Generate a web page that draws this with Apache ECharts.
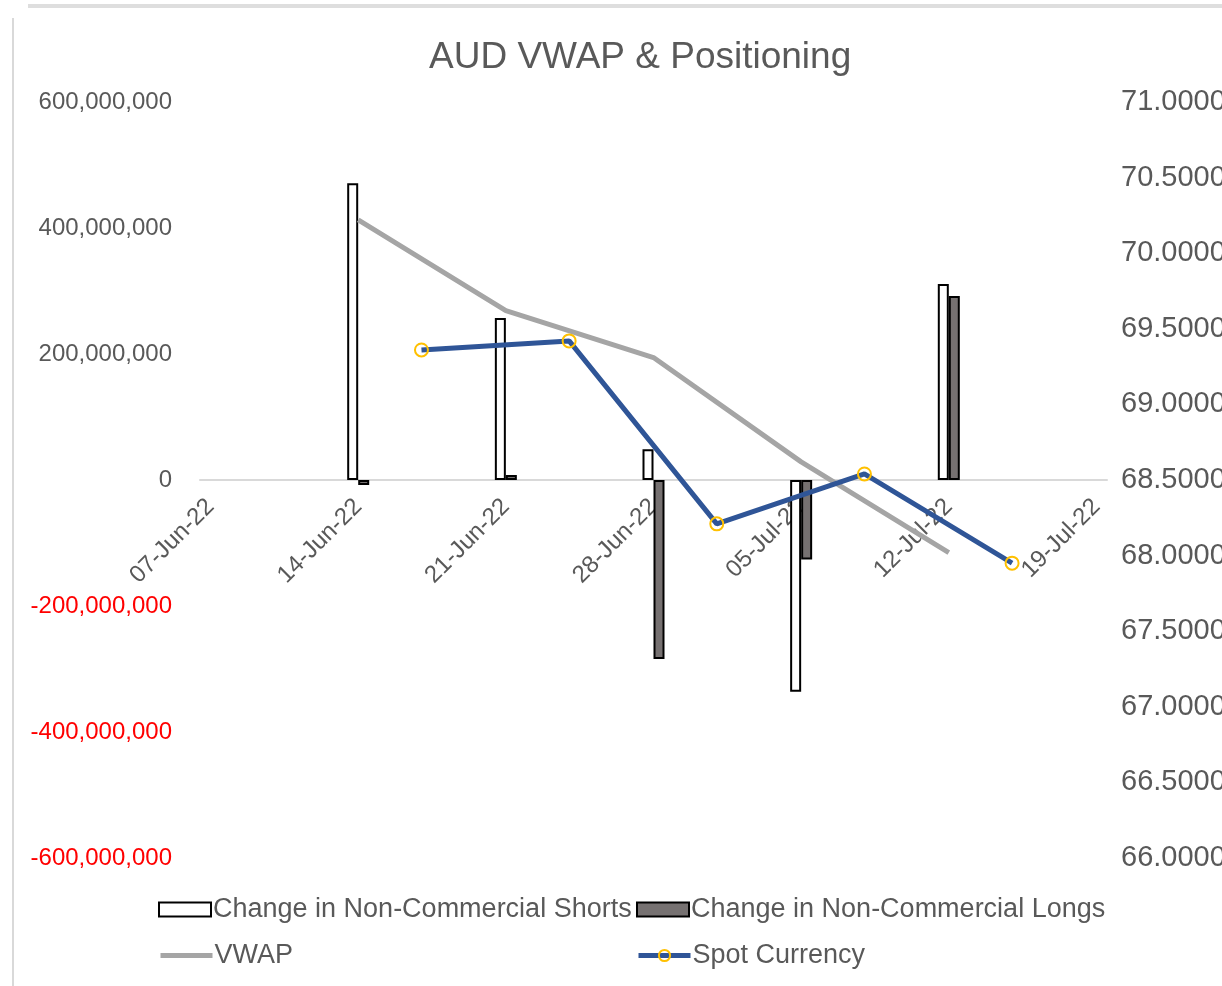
<!DOCTYPE html>
<html lang="en">
<head>
    <meta charset="UTF-8">
    <title>AUD VWAP & Positioning</title>
    <script src="https://cdn.jsdelivr.net/npm/echarts@6/dist/echarts.min.js"></script>
</head>
<style type="text/css">
    html,body,#chart{
        width: 100%;
        height: 100%;
        margin: 0;
        padding: 0;
        background: #fff;
    }
</style>
<body>
<div id="chart"></div>
<script>
    // daily slots from 07-Jun-22 to 19-Jul-22, a label every 7 days
    var firstDay = '2022-06-07';
    var dayCount = 43;

    // weekly positioning changes (left axis)
    var barDates = ['14-Jun-22', '21-Jun-22', '28-Jun-22', '05-Jul-22', '12-Jul-22'];
    var shorts = [471000000, 257000000, 49000000, -336000000, 311000000];
    var longs = [-8000000, 8000000, -284000000, -126000000, 292000000];

    // VWAP (right axis)
    var vwapDates = ['14-Jun-22', '21-Jun-22', '28-Jun-22', '05-Jul-22', '12-Jul-22'];
    var vwap = [70.22, 69.62, 69.31, 68.62, 68.02];

    // spot (right axis)
    var spotDates = ['17-Jun-22', '24-Jun-22', '01-Jul-22', '08-Jul-22', '15-Jul-22'];
    var spot = [69.36, 69.42, 68.21, 68.54, 67.95];

    var months = ['Jan','Feb','Mar','Apr','May','Jun','Jul','Aug','Sep','Oct','Nov','Dec'];
    function fmtDay(d){
        var dd = d.getUTCDate();
        return (dd < 10 ? '0' + dd : dd) + '-' + months[d.getUTCMonth()] + '-' + String(d.getUTCFullYear()).slice(2);
    }
    var days = [];
    var t0 = Date.parse(firstDay + 'T00:00:00Z');
    for(var i=0;i<dayCount;i++){
        days.push(fmtDay(new Date(t0 + i*86400000)));
    }
    function pairs(ds, vs){
        var out = [];
        for(var i=0;i<ds.length;i++){
            out.push([ds[i], vs[i]]);
        }
        return out;
    }

    var font = 'Liberation Sans, Arial, sans-serif';
    var grey = '#595959';
    var gridTop = 102, gridBottom = 128, H = 986;
    var myChart = echarts.init(document.getElementById('chart'));
    var options = {
        animation: false,
        title: {
            text: 'AUD VWAP & Positioning',
            left: 424,
            top: 34,
            textStyle: {color: grey, fontSize: 37, fontWeight: 'normal', fontFamily: font}
        },
        graphic: [
            {type: 'rect', shape: {x: 28, y: 4, width: 1200, height: 4}, style: {fill: '#dedede'}},
            {type: 'rect', shape: {x: 12, y: 18, width: 2, height: 970}, style: {fill: '#d9d9d9'}}
        ],
        grid: {left: 200, right: 115, top: gridTop, bottom: gridBottom, outerBoundsMode: 'none'},
        legend: [
            {data: [{name: 'Change in Non-Commercial Shorts', icon: 'rect'}], left: 158, top: 896},
            {data: [{name: 'Change in Non-Commercial Longs', icon: 'rect'}], left: 636, top: 896},
            {data: [{name: 'VWAP', itemStyle: {opacity: 0}, lineStyle: {width: 5}}], left: 158, top: 942},
            {data: [{name: 'Spot Currency', lineStyle: {width: 5}}], left: 636, top: 942}
        ].map(function(l){
            l.itemWidth = 52;
            l.itemHeight = 14;
            l.itemGap = 0;
            l.padding = 0;
            l.textStyle = {color: grey, fontSize: 27, fontFamily: font, padding: [0, 0, 0, -3]};
            return l;
        }),
        xAxis: {
            type: 'category',
            data: days,
            boundaryGap: true,
            // sits on the zero line of the left axis (middle of the grid)
            offset: -(H - gridTop - gridBottom) / 2,
            axisLine: {onZero: false, lineStyle: {color: '#d9d9d9', width: 2}},
            axisTick: {show: false},
            axisLabel: {
                interval: 6,
                rotate: 45,
                margin: 23,
                color: grey,
                fontSize: 24,
                fontFamily: font
            },
            splitLine: {show: false}
        },
        yAxis: [{
            type: 'value',
            min: -600000000,
            max: 600000000,
            interval: 200000000,
            axisLine: {show: false},
            axisTick: {show: false},
            splitLine: {show: false},
            axisLabel: {
                margin: 28,
                fontSize: 24,
                fontFamily: font,
                color: function(v){ return v < 0 ? '#FF0000' : grey; },
                formatter: function(v){ return Number(v).toLocaleString('en-US'); }
            }
        }, {
            type: 'value',
            min: 66,
            max: 71,
            interval: 0.5,
            axisLine: {show: false},
            axisTick: {show: false},
            splitLine: {show: false},
            axisLabel: {
                margin: 14,
                fontSize: 29,
                fontFamily: font,
                color: grey,
                formatter: function(v){ return Number(v).toFixed(4); }
            }
        }],
        series: [{
            name: 'Change in Non-Commercial Shorts',
            type: 'bar',
            barWidth: 11,
            barGap: '0%',
            itemStyle: {color: '#ffffff', borderColor: '#000000', borderWidth: 2},
            data: pairs(barDates, shorts)
        }, {
            name: 'Change in Non-Commercial Longs',
            type: 'bar',
            barWidth: 11,
            barGap: '0%',
            itemStyle: {color: '#767171', borderColor: '#000000', borderWidth: 2},
            data: pairs(barDates, longs)
        }, {
            name: 'VWAP',
            type: 'line',
            yAxisIndex: 1,
            symbol: 'none',
            lineStyle: {color: '#A5A5A5', width: 5},
            itemStyle: {color: '#A5A5A5'},
            data: pairs(vwapDates, vwap)
        }, {
            name: 'Spot Currency',
            type: 'line',
            yAxisIndex: 1,
            symbol: 'circle',
            symbolSize: 13,
            lineStyle: {color: '#2F5597', width: 5},
            itemStyle: {color: 'rgba(0,0,0,0)', borderColor: '#FFC000', borderWidth: 2},
            data: pairs(spotDates, spot)
        }]
    };
    myChart.setOption(options);
</script>
</body>
</html>
